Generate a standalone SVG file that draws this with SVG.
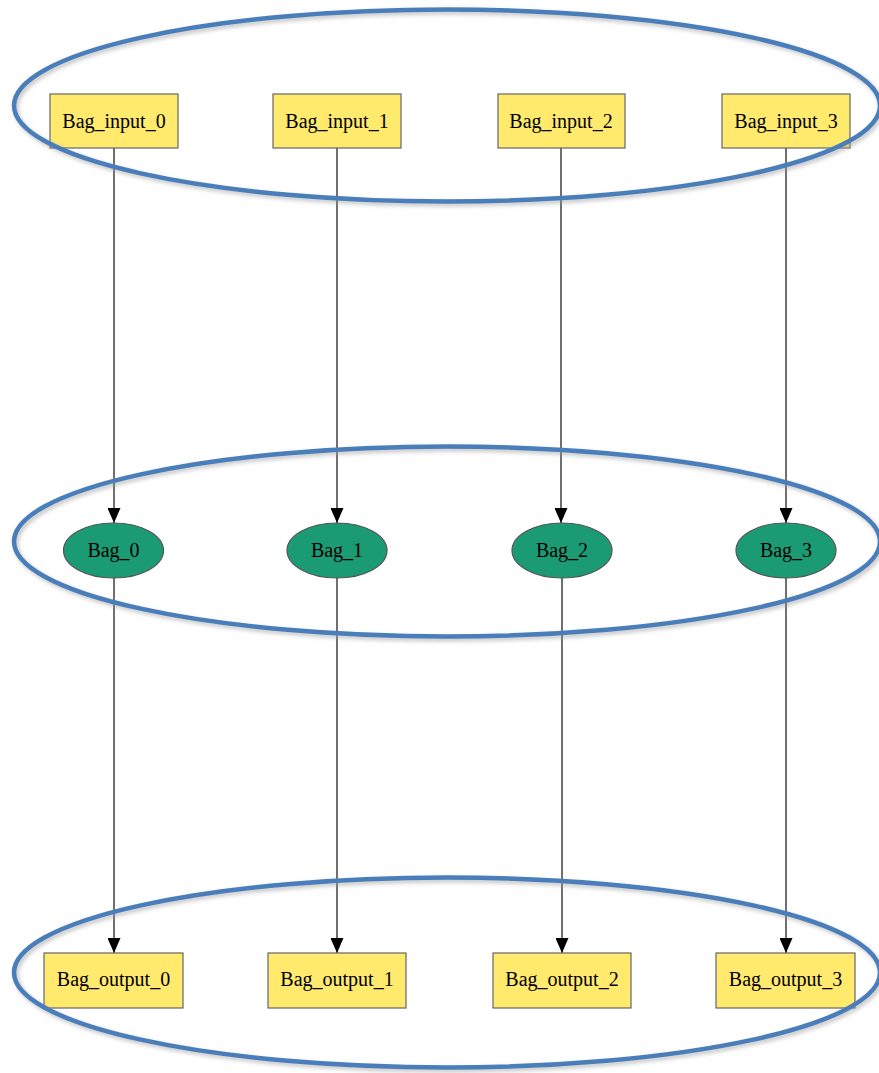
<svg xmlns="http://www.w3.org/2000/svg" width="879" height="1073" viewBox="0 0 879 1073">
<style>
.box{fill:#ffea6e;stroke:#666;stroke-width:1.2}
.ell{fill:#1b9b73;stroke:#555;stroke-width:1.2}
.t{font-family:"Liberation Serif","Times New Roman",serif;font-size:20px;fill:#000;text-anchor:middle}
.e{stroke:#222;stroke-width:1.3;fill:none;marker-end:url(#ah)}
.grp{fill:none;stroke:#4a7ebb;stroke-width:4.5}
.sh{fill:none;stroke:#999;stroke-width:4.5;opacity:0.6;filter:url(#blur)}
</style>
<defs>
<marker id="ah" viewBox="0 0 15 13" refX="15" refY="6.5" markerWidth="15" markerHeight="13" markerUnits="userSpaceOnUse" orient="auto">
<path d="M0,0 L15,6.5 L0,13 Z" fill="#000"/>
</marker>
<filter id="blur" x="-10%" y="-20%" width="120%" height="140%"><feGaussianBlur stdDeviation="2"/></filter>
</defs>
<rect width="879" height="1073" fill="#fff"/>
<g id="connectors">
<path class="e" d="M114,148 V523"/>
<path class="e" d="M337,148 V523"/>
<path class="e" d="M561,148 V523"/>
<path class="e" d="M786,148 V523"/>
<path class="e" d="M114,578 V953"/>
<path class="e" d="M337,578 V953"/>
<path class="e" d="M562,578 V953"/>
<path class="e" d="M786,578 V953"/>
</g>
<g id="Bag_input_0"><rect class="box" x="50" y="94" width="128" height="54"/><text class="t" x="114" y="128">Bag_input_0</text></g>
<g id="Bag_input_1"><rect class="box" x="273" y="94" width="128" height="54"/><text class="t" x="337" y="128">Bag_input_1</text></g>
<g id="Bag_input_2"><rect class="box" x="498" y="94" width="127" height="54"/><text class="t" x="561" y="128">Bag_input_2</text></g>
<g id="Bag_input_3"><rect class="box" x="722" y="94" width="128" height="54"/><text class="t" x="786" y="128">Bag_input_3</text></g>
<g id="Bag_0"><ellipse class="ell" cx="113.5" cy="550.5" rx="50" ry="27.5"/><text class="t" x="113.5" y="557">Bag_0</text></g>
<g id="Bag_1"><ellipse class="ell" cx="337" cy="550.5" rx="50" ry="27.5"/><text class="t" x="337" y="557">Bag_1</text></g>
<g id="Bag_2"><ellipse class="ell" cx="562" cy="550.5" rx="50" ry="27.5"/><text class="t" x="562" y="557">Bag_2</text></g>
<g id="Bag_3"><ellipse class="ell" cx="786" cy="550.5" rx="50" ry="27.5"/><text class="t" x="786" y="557">Bag_3</text></g>
<g id="Bag_output_0"><rect class="box" x="44" y="953" width="139" height="55"/><text class="t" x="113.5" y="986">Bag_output_0</text></g>
<g id="Bag_output_1"><rect class="box" x="268" y="953" width="138" height="55"/><text class="t" x="337" y="986">Bag_output_1</text></g>
<g id="Bag_output_2"><rect class="box" x="493" y="953" width="138" height="55"/><text class="t" x="562" y="986">Bag_output_2</text></g>
<g id="Bag_output_3"><rect class="box" x="716" y="953" width="139" height="55"/><text class="t" x="785.5" y="986">Bag_output_3</text></g>
<g id="groups">
<ellipse class="sh" cx="449" cy="108" rx="433" ry="96"/>
<ellipse class="grp" cx="447" cy="105.5" rx="433" ry="96"/>
<ellipse class="sh" cx="449" cy="544" rx="433" ry="95"/>
<ellipse class="grp" cx="447" cy="541.5" rx="433" ry="95"/>
<ellipse class="sh" cx="449" cy="975" rx="433" ry="95"/>
<ellipse class="grp" cx="447" cy="972.5" rx="433" ry="95"/>
</g>
</svg>
